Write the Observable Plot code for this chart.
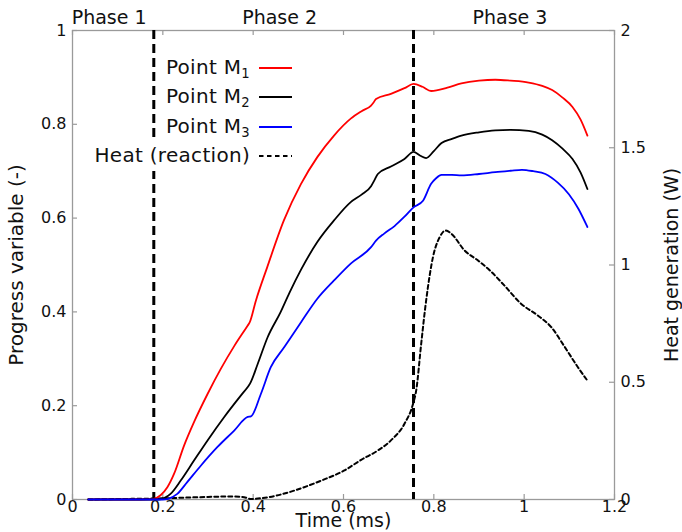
<!DOCTYPE html>
<html><head><meta charset="utf-8">
<script src="https://cdn.jsdelivr.net/npm/d3@7"></script>
<script src="https://cdn.jsdelivr.net/npm/@observablehq/plot@0.6"></script>
<style>
body{margin:0;background:#fff;}
#wrap{position:relative;width:682px;height:532px;font-family:"DejaVu Sans",sans-serif;color:#111;}
.lg{position:absolute;left:0;width:250px;height:26px;line-height:26px;text-align:right;font-size:20px;letter-spacing:0.3px;white-space:nowrap;}
.lg span{background:#fff;padding:2px 0 4px 2px;}
.lg sub{font-size:0.66em;line-height:0;vertical-align:-0.3em;}
.ls{position:absolute;left:259px;width:33px;height:6px;}
</style></head><body><div id="wrap"></div>
<script>
// ---- data ----
const xTicks = [0, 0.2, 0.4, 0.6, 0.8, 1, 1.2];
const yTicks = [0, 0.2, 0.4, 0.6, 0.8, 1];
const heatTicks = [0, 0.5, 1, 1.5, 2];
const heatMax = 2;
const phaseNames = ["Phase 1", "Phase 2", "Phase 3"];
const phaseBounds = [0, 0.18, 0.755, 1.2];

const tM1 = [0.035,0.10,0.15,0.178,0.195,0.21,0.225,0.247,0.269,0.299,0.328,0.358,0.388,0.392,0.406,0.431,0.468,0.506,0.542,0.579,0.616,0.640,0.661,0.667,0.672,0.705,0.735,0.755,0.775,0.794,0.83,0.861,0.90,0.936,0.97,1.010,1.04,1.062,1.085,1.107,1.125,1.140];
const vM1 = [0,0,0,0.001,0.009,0.026,0.055,0.115,0.165,0.225,0.278,0.327,0.371,0.377,0.424,0.495,0.595,0.673,0.730,0.776,0.812,0.828,0.840,0.847,0.854,0.865,0.877,0.886,0.880,0.871,0.878,0.887,0.893,0.895,0.893,0.889,0.882,0.873,0.857,0.837,0.810,0.776];

const tM2 = [0.035,0.10,0.15,0.19,0.205,0.217,0.240,0.269,0.299,0.336,0.373,0.388,0.393,0.410,0.432,0.461,0.48,0.506,0.542,0.579,0.616,0.640,0.661,0.668,0.676,0.705,0.735,0.755,0.770,0.783,0.800,0.817,0.84,0.861,0.90,0.936,0.97,1.010,1.04,1.062,1.085,1.107,1.125,1.140];
const vM2 = [0,0,0,0,0.004,0.012,0.041,0.083,0.126,0.176,0.222,0.240,0.247,0.289,0.346,0.400,0.440,0.490,0.549,0.595,0.634,0.650,0.668,0.680,0.694,0.710,0.726,0.741,0.733,0.728,0.743,0.760,0.769,0.776,0.783,0.787,0.788,0.786,0.778,0.766,0.748,0.726,0.697,0.662];

const tM3 = [0.035,0.10,0.15,0.20,0.21,0.232,0.254,0.284,0.321,0.358,0.388,0.395,0.417,0.439,0.469,0.506,0.542,0.579,0.616,0.661,0.672,0.690,0.713,0.735,0.755,0.776,0.794,0.805,0.817,0.84,0.861,0.90,0.936,0.97,0.995,1.02,1.047,1.075,1.099,1.12,1.140];
const vM3 = [0,0,0,0,0.001,0.012,0.037,0.072,0.112,0.147,0.176,0.177,0.225,0.282,0.325,0.378,0.428,0.467,0.503,0.538,0.552,0.567,0.583,0.603,0.623,0.637,0.673,0.685,0.692,0.692,0.691,0.694,0.698,0.701,0.703,0.700,0.694,0.675,0.651,0.620,0.581];

const tHeat = [0.035,0.10,0.18,0.25,0.30,0.357,0.38,0.395,0.42,0.45,0.491,0.55,0.602,0.64,0.676,0.705,0.735,0.754,0.761,0.772,0.783,0.798,0.813,0.826,0.839,0.868,0.898,0.924,0.956,0.993,1.030,1.060,1.090,1.119,1.140];
const vHeat = [0,0.002,0.004,0.008,0.011,0.013,0.010,0.002,0.006,0.016,0.038,0.08,0.124,0.17,0.209,0.252,0.323,0.408,0.465,0.664,0.849,1.033,1.119,1.147,1.133,1.062,1.019,0.977,0.913,0.835,0.785,0.735,0.650,0.564,0.507];

const seriesNames = ["M1", "M2", "M3"];
const seriesColors = ["#ff0000", "#000000", "#0000ff"];
const heatLabel = "Heat (reaction)";

// ---- build ----
const W = 682, H = 532, mL = 72, mR = 68, mT = 30, mB = 33;
const plotW = W - mL - mR, plotH = H - mT - mB;
const axisGray = "#9a9a9a";
const fmt = d => String(Math.round(d * 10) / 10);

const series = [[tM1, vM1], [tM2, vM2], [tM3, vM3]];
const rows = series.flatMap(([ts, vs], i) => ts.map((t, j) => ({s: seriesNames[i], t, v: vs[j]})));
const heatRows = tHeat.map((t, j) => ({t, w: vHeat[j]}));
const phases = phaseNames.map((name, i) => ({name, mid: (phaseBounds[i] + phaseBounds[i + 1]) / 2}));
const dividers = phaseBounds.slice(1, -1);

const chart = Plot.plot({
  width: W, height: H,
  marginLeft: mL, marginRight: mR, marginTop: mT, marginBottom: mB,
  style: {fontFamily: "DejaVu Sans, sans-serif", fontSize: "16px", color: "#111", background: "#fff", overflow: "visible"},
  x: {domain: [0, 1.2]},
  y: {domain: [0, 1]},
  color: {domain: seriesNames, range: seriesColors},
  marks: [
    Plot.frame({stroke: axisGray, strokeWidth: 1.3}),
    Plot.tickX(xTicks, {x: d => d, insetTop: plotH - 5, stroke: axisGray, strokeWidth: 1.2}),
    Plot.tickX(xTicks, {x: d => d, insetBottom: plotH - 5, stroke: axisGray, strokeWidth: 1.2}),
    Plot.tickY(yTicks, {y: d => d, insetRight: plotW - 5, stroke: axisGray, strokeWidth: 1.2}),
    Plot.tickY(heatTicks, {y: d => d / heatMax, insetLeft: plotW - 5, stroke: axisGray, strokeWidth: 1.2}),
    Plot.axisX(xTicks, {anchor: "bottom", tickSize: 0, tickPadding: 1, tickFormat: fmt, label: null, fontSize: 16}),
    Plot.axisY(yTicks, {anchor: "left", tickSize: 0, tickPadding: 6, tickFormat: fmt, label: null, fontSize: 16}),
    Plot.axisY(heatTicks.map(d => d / heatMax), {anchor: "right", tickSize: 0, tickPadding: 6, tickFormat: d => fmt(d * heatMax), label: null, fontSize: 16}),
    Plot.ruleX(dividers, {x: d => d, stroke: "#000", strokeWidth: 3, strokeDasharray: "9,5"}),
    Plot.line(heatRows, {x: "t", y: d => d.w / heatMax, stroke: "#000", strokeWidth: 2, strokeDasharray: "4,3", curve: "monotone-x"}),
    Plot.line(rows, {x: "t", y: "v", z: "s", stroke: "s", strokeWidth: 1.8, curve: "monotone-x"}),
    Plot.text(phases, {x: "mid", text: "name", frameAnchor: "top", lineAnchor: "middle", dy: -13, dx: -4, fontSize: 19, fill: "#111"}),
    Plot.text(["Time (ms)"], {frameAnchor: "bottom", lineAnchor: "middle", dy: 21, fontSize: 19, fill: "#111"}),
    Plot.text(["Progress variable (-)"], {frameAnchor: "left", textAnchor: "middle", lineAnchor: "middle", rotate: -90, dx: -56, fontSize: 20, fill: "#111"}),
    Plot.text(["Heat generation (W)"], {frameAnchor: "right", textAnchor: "middle", lineAnchor: "middle", rotate: -90, dx: 57, fontSize: 19, fill: "#111"})
  ]
});

const wrap = document.getElementById("wrap");
wrap.appendChild(chart);

// legend (layout overlay)
const rowY = [68, 97, 127, 156];
const legendItems = seriesNames.map((n, i) => ({html: "Point M<sub>" + n.slice(1) + "</sub>", color: seriesColors[i], dash: null}))
  .concat([{html: heatLabel, color: "#000", dash: "4.5,3.5"}]);
legendItems.forEach((it, i) => {
  const d = document.createElement("div");
  d.className = "lg";
  d.style.top = (rowY[i] - 14) + "px";
  d.innerHTML = "<span>" + it.html + "</span>";
  wrap.appendChild(d);
  const s = document.createElementNS("http://www.w3.org/2000/svg", "svg");
  s.setAttribute("class", "ls");
  s.setAttribute("width", 33); s.setAttribute("height", 6);
  s.style.top = (rowY[i] - 3) + "px";
  const l = document.createElementNS("http://www.w3.org/2000/svg", "line");
  l.setAttribute("x1", 0); l.setAttribute("x2", 33); l.setAttribute("y1", 3); l.setAttribute("y2", 3);
  l.setAttribute("stroke", it.color); l.setAttribute("stroke-width", it.dash ? 2 : 1.8);
  if (it.dash) l.setAttribute("stroke-dasharray", it.dash);
  s.appendChild(l);
  wrap.appendChild(s);
});
</script>
</body></html>
